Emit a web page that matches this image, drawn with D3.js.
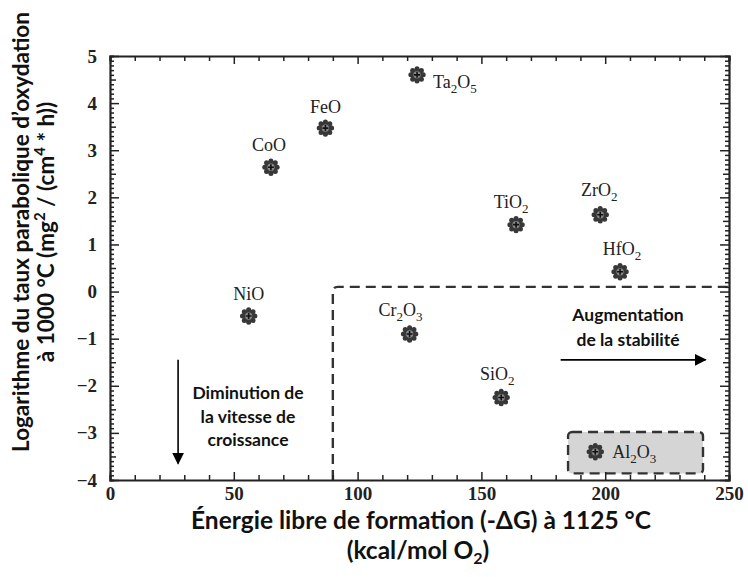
<!DOCTYPE html>
<html>
<head>
<meta charset="utf-8">
<script src="https://cdn.jsdelivr.net/npm/d3@7"></script>
<style>
  html, body { margin: 0; padding: 0; background: #fff; }
  svg { display: block; }
</style>
</head>
<body>
<svg id="chart" width="748" height="577"></svg>
<script>
// Oxides: free energy of formation (-ΔG, kcal/mol O2) vs log parabolic oxidation rate
const oxides = ["Ta2O5", "FeO", "CoO", "TiO2", "ZrO2", "HfO2", "NiO", "Cr2O3", "SiO2", "Al2O3"];
const deltaG = [124, 87, 65, 164, 198, 206, 56, 121, 158, 196];
const logRate = [4.6, 3.47, 2.64, 1.42, 1.63, 0.42, -0.52, -0.9, -2.25, -3.4];
// label text pieces: [text, isSubscript]
const labelParts = [
  [["Ta", 0], ["2", 1], ["O", 0], ["5", 1]],
  [["FeO", 0]],
  [["CoO", 0]],
  [["TiO", 0], ["2", 1]],
  [["ZrO", 0], ["2", 1]],
  [["HfO", 0], ["2", 1]],
  [["NiO", 0]],
  [["Cr", 0], ["2", 1], ["O", 0], ["3", 1]],
  [["SiO", 0], ["2", 1]],
  [["Al", 0], ["2", 1], ["O", 0], ["3", 1]]
];
const xTicks = [0, 50, 100, 150, 200, 250];
const yTicks = [-4, -3, -2, -1, 0, 1, 2, 3, 4, 5];

const svg = d3.select("#chart");
const L = 110, R = 729, T = 56, B = 480;
const x = d3.scaleLinear().domain([0, 250]).range([L, R]);
const y = d3.scaleLinear().domain([-4, 5]).range([B, T]);

const ink = "#222";
const tickFont = "'Liberation Serif', 'Times New Roman', serif";
const sansFont = "Lato, 'Open Sans', sans-serif";

// stability region (dashed outline)
const region = { x0: 90, y0: 0.1 };
svg.append("path")
  .attr("d", `M${x(region.x0)},${y(-4)} L${x(region.x0)},${y(region.y0) + 5} Q${x(region.x0)},${y(region.y0)} ${x(region.x0) + 5},${y(region.y0)} L${x(250)},${y(region.y0)}`)
  .attr("fill", "none").attr("stroke", "#333").attr("stroke-width", 2.4)
  .attr("stroke-dasharray", "10,6");

// Al2O3 highlight box
const box = { x0: 185, x1: 239.5, y0: -2.98, y1: -3.86 };
svg.append("rect")
  .attr("x", x(box.x0)).attr("y", y(box.y0))
  .attr("width", x(box.x1) - x(box.x0)).attr("height", y(box.y1) - y(box.y0))
  .attr("rx", 4)
  .attr("fill", "#d5d5d5").attr("stroke", "#333").attr("stroke-width", 2.4)
  .attr("stroke-dasharray", "10,6");

// axes: frame with inward ticks on all four sides
function styleAxis(g) {
  g.attr("font-family", null);
  g.select(".domain").attr("stroke", ink).attr("stroke-width", 2.2);
  g.selectAll(".tick line").attr("stroke", ink).attr("stroke-width", 1.5);
  g.selectAll(".tick text").style("font-family", tickFont).style("font-weight", "bold")
    .style("font-size", "19px").attr("fill", ink);
}
const xMinor = d3.range(0, 251, 10);
const yMinor = d3.range(-40, 51, 1).map(d => d / 10);
const isMajorY = d => yTicks.some(t => Math.abs(t - d) < 1e-9);
const isHalfY = d => Math.abs(d * 2 - Math.round(d * 2)) < 1e-9;

const gB = svg.append("g").attr("transform", `translate(0,${B})`)
  .call(d3.axisBottom(x).tickValues(xMinor).tickSizeOuter(0).tickPadding(7)
    .tickSize(-5).tickFormat(d => xTicks.includes(d) ? d : ""));
gB.selectAll(".tick line").attr("y2", d => xTicks.includes(d) ? -8 : -5);
styleAxis(gB);

const gT = svg.append("g").attr("transform", `translate(0,${T})`)
  .call(d3.axisTop(x).tickValues(xMinor).tickSizeOuter(0).tickSize(-5).tickFormat(""));
gT.selectAll(".tick line").attr("y2", d => xTicks.includes(d) ? 8 : 5);
styleAxis(gT);

const fmtY = d => (d < 0 ? "\u2212" + Math.abs(d) : "" + d);
const gL = svg.append("g").attr("transform", `translate(${L},0)`)
  .call(d3.axisLeft(y).tickValues(yMinor).tickSizeOuter(0).tickSize(-4).tickPadding(13)
    .tickFormat(d => isMajorY(d) ? fmtY(Math.round(d)) : ""));
gL.selectAll(".tick line").attr("x2", d => isMajorY(d) ? 9 : (isHalfY(d) ? 6 : 4));
styleAxis(gL);

const gR = svg.append("g").attr("transform", `translate(${R},0)`)
  .call(d3.axisRight(y).tickValues(yMinor).tickSizeOuter(0).tickSize(-4).tickFormat(""));
gR.selectAll(".tick line").attr("x2", d => isMajorY(d) ? -9 : (isHalfY(d) ? -6 : -4));
styleAxis(gR);

// markers: dark cog with a small cross in the middle
const pts = oxides.map((name, i) => ({ name, gx: deltaG[i], gy: logRate[i], parts: labelParts[i] }));
const mk = svg.append("g").selectAll("g").data(pts).join("g")
  .attr("transform", d => `translate(${x(d.gx)},${y(d.gy)})`);
d3.range(8).forEach(k => {
  const a = k * Math.PI / 4;
  mk.append("circle").attr("cx", 6.2 * Math.cos(a)).attr("cy", 6.2 * Math.sin(a))
    .attr("r", 2.5).attr("fill", "#383838");
});
mk.append("circle").attr("r", 6.4).attr("fill", "#383838");
mk.append("circle").attr("r", 3.6).attr("fill", "#8a8a8a");
mk.append("path").attr("d", "M-3,0H3M0,-3V3").attr("stroke", "#111").attr("stroke-width", 1.6);

// labels: placement relative to each marker
const labelPos = {
  "Ta2O5": { dx: 16, dy: 13, anchor: "start" },
  "FeO": { dx: 0, dy: -15, anchor: "middle" },
  "CoO": { dx: -2, dy: -16, anchor: "middle" },
  "TiO2": { dx: -5, dy: -17, anchor: "middle" },
  "ZrO2": { dx: -1, dy: -19, anchor: "middle" },
  "HfO2": { dx: 2, dy: -17, anchor: "middle" },
  "NiO": { dx: 0, dy: -16, anchor: "middle" },
  "Cr2O3": { dx: -9, dy: -18, anchor: "middle" },
  "SiO2": { dx: -4, dy: -18, anchor: "middle" },
  "Al2O3": { dx: 17, dy: 6, anchor: "start" }
};
const lab = svg.append("g").selectAll("text").data(pts).join("text")
  .attr("x", d => x(d.gx) + labelPos[d.name].dx)
  .attr("y", d => y(d.gy) + labelPos[d.name].dy)
  .attr("text-anchor", d => labelPos[d.name].anchor)
  .attr("font-family", tickFont).attr("font-size", 18).attr("fill", ink);
lab.each(function (d) {
  const t = d3.select(this);
  let shifted = false;
  d.parts.forEach(([s, sub]) => {
    const ts = t.append("tspan").text(s);
    if (sub && !shifted) { ts.attr("dy", 5).attr("font-size", 13); shifted = true; }
    else if (sub) { ts.attr("font-size", 13); }
    else if (shifted) { ts.attr("dy", -5); shifted = false; }
  });
});

// annotations
const defs = svg.append("defs");
defs.append("marker").attr("id", "ah").attr("viewBox", "0 0 10 10")
  .attr("refX", 9).attr("refY", 5).attr("markerWidth", 12).attr("markerHeight", 12)
  .attr("markerUnits", "userSpaceOnUse").attr("orient", "auto")
  .append("path").attr("d", "M0,0 L10,5 L0,10 Z").attr("fill", "#000");

svg.append("line")
  .attr("x1", x(27.5)).attr("y1", y(-1.45)).attr("x2", x(27.5)).attr("y2", y(-3.65))
  .attr("stroke", "#000").attr("stroke-width", 1.6).attr("marker-end", "url(#ah)");
svg.append("line")
  .attr("x1", x(182)).attr("y1", y(-1.45)).attr("x2", x(240.5)).attr("y2", y(-1.45))
  .attr("stroke", "#000").attr("stroke-width", 1.6).attr("marker-end", "url(#ah)");

function block(lines, cx, ys) {
  lines.forEach((s, i) => svg.append("text").attr("x", cx).attr("y", ys[i])
    .attr("text-anchor", "middle").attr("font-family", sansFont).attr("font-weight", 700)
    .attr("font-size", 17.5).attr("fill", "#111").text(s));
}
block(["Diminution de", "la vitesse de", "croissance"], 248, [399, 423, 446]);
block(["Augmentation", "de la stabilité"], 628, [321, 346]);

// axis titles
const titleSize = 22.5, xTitleSize = 24.5;
svg.append("text").attr("x", 421).attr("y", 529).attr("text-anchor", "middle")
  .attr("font-family", sansFont).attr("font-weight", 700).attr("font-size", xTitleSize).attr("fill", "#111")
  .text("Énergie libre de formation (-ΔG) à 1125 °C");
const xt2 = svg.append("text").attr("x", 418).attr("y", 559).attr("text-anchor", "middle")
  .attr("font-family", sansFont).attr("font-weight", 700).attr("font-size", xTitleSize).attr("fill", "#111");
xt2.append("tspan").text("(kcal/mol O");
xt2.append("tspan").attr("font-size", 16).attr("dy", 5).text("2");
xt2.append("tspan").attr("dy", -5).text(")");

const yt = svg.append("g").attr("transform", "translate(29,232) rotate(-90)");
yt.append("text").attr("text-anchor", "middle")
  .attr("font-family", sansFont).attr("font-weight", 700).attr("font-size", titleSize).attr("fill", "#111")
  .text("Logarithme du taux parabolique d\u2019oxydation");
const yt2 = yt.append("text").attr("y", 25).attr("text-anchor", "middle")
  .attr("font-family", sansFont).attr("font-weight", 700).attr("font-size", titleSize).attr("fill", "#111");
yt2.append("tspan").text("à 1000 °C (mg");
yt2.append("tspan").attr("font-size", 15).attr("dy", -9).text("2");
yt2.append("tspan").attr("dy", 9).text(" / (cm");
yt2.append("tspan").attr("font-size", 15).attr("dy", -9).text("4");
yt2.append("tspan").attr("dy", 9).text(" * h))");
</script>
</body>
</html>
